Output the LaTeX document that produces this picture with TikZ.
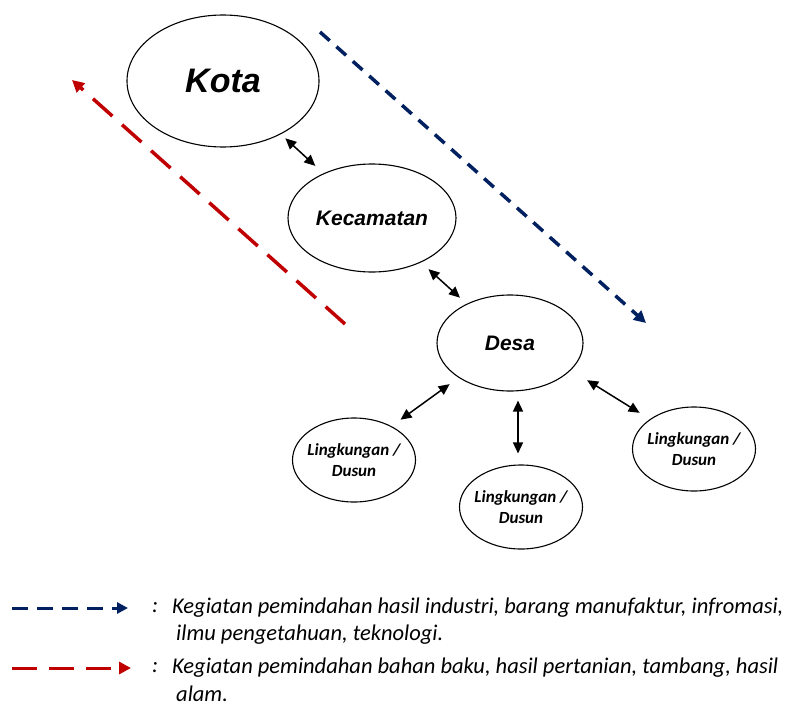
\documentclass[tikz,border=0pt]{standalone}
\usepackage{fontspec}
\setmainfont{Carlito}
\newfontfamily\arialf{Liberation Sans}
\usetikzlibrary{shapes.geometric,arrows.meta}
\definecolor{navyb}{HTML}{002060}
\definecolor{darkr}{HTML}{C00000}
\begin{document}
\begin{tikzpicture}[x=1pt,y=-1pt,
  place/.style={ellipse, draw, line width=1.1pt, inner sep=0pt, font=\arialf\bfseries\itshape},
  small/.style={ellipse, draw, line width=1.1pt, inner xsep=-12pt, inner ysep=0pt, align=center,
     font=\fontsize{17}{21}\selectfont\bfseries\itshape, minimum width=123pt, minimum height=84pt},
  link/.style={line width=1.5pt, {Triangle[length=11pt,width=10pt]}-{Triangle[length=11pt,width=10pt]}},
  bluearrow/.style={navyb, line width=3.5pt, dash pattern=on 13pt off 9pt, -{Triangle[length=12pt,width=12pt]}},
  redarrow/.style={darkr, line width=3.5pt, dash pattern=on 26pt off 13pt, -{Triangle[length=12pt,width=12pt]}},
  legtext/.style={anchor=west, inner sep=0pt, font=\fontsize{22.5}{26}\selectfont\itshape}]
\useasboundingbox (0,0) rectangle (791,706);

\node[place, minimum width=192pt, minimum height=132pt, font=\fontsize{34}{40}\selectfont\arialf\bfseries\itshape] (kota) at (223,81) {Kota};
\node[place, minimum width=168pt, minimum height=108pt, font=\fontsize{21}{25}\selectfont\arialf\bfseries\itshape] (kec) at (372,218) {Kecamatan};
\node[place, minimum width=146pt, minimum height=96pt, font=\fontsize{21}{25}\selectfont\arialf\bfseries\itshape] (desa) at (510,343) {Desa};
\node[small] (l1) at (354,460) {Lingkungan /\\Dusun};
\node[small] (l2) at (521,507) {Lingkungan /\\Dusun};
\node[small] (l3) at (694,449) {Lingkungan /\\Dusun};

\draw[link, shorten <=6pt, shorten >=11pt] (kota) -- (kec);
\draw[link, shorten <=10pt, shorten >=9pt] (kec) -- (desa);
\draw[link, shorten <=11pt, shorten >=11pt] (desa.214) -- (l1.42);
\draw[link, shorten <=9pt, shorten >=11pt] ([xshift=8pt]desa.south) -- ([xshift=-3pt]l2.north);
\draw[link, shorten <=19pt, shorten >=12pt] (desa.-24) -- (l3.146);

\coordinate (rs) at (345,324);
\coordinate (re) at (72,80);
\coordinate (bs) at (320,32);
\coordinate (be) at (646,323);
\draw[redarrow] (rs) -- (re);
\draw[bluearrow] (bs) -- (be);

\coordinate (lb1) at (12,608);
\coordinate (lb2) at (128,608);
\coordinate (lr1) at (12,668);
\coordinate (lr2) at (131,668);
\draw[navyb, line width=3pt, dash pattern=on 16pt off 9pt, -{Triangle[length=11pt,width=11pt]}] (lb1) -- (lb2);
\draw[darkr, line width=3pt, dash pattern=on 25pt off 12pt, -{Triangle[length=12pt,width=12pt]}] (lr1) -- (lr2);

\node[legtext] (c1) at (152,608) {:};
\node[legtext] (t1) at (172,608) {Kegiatan pemindahan hasil industri, barang manufaktur, infromasi,};
\node[legtext] (t1b) at (176,635) {ilmu pengetahuan, teknologi.};
\node[legtext] (c2) at (152,668) {:};
\node[legtext] (t2) at (172,668) {Kegiatan pemindahan bahan baku, hasil pertanian, tambang, hasil};
\node[legtext] (t2b) at (176,694) {alam.};
\end{tikzpicture}
\end{document}
